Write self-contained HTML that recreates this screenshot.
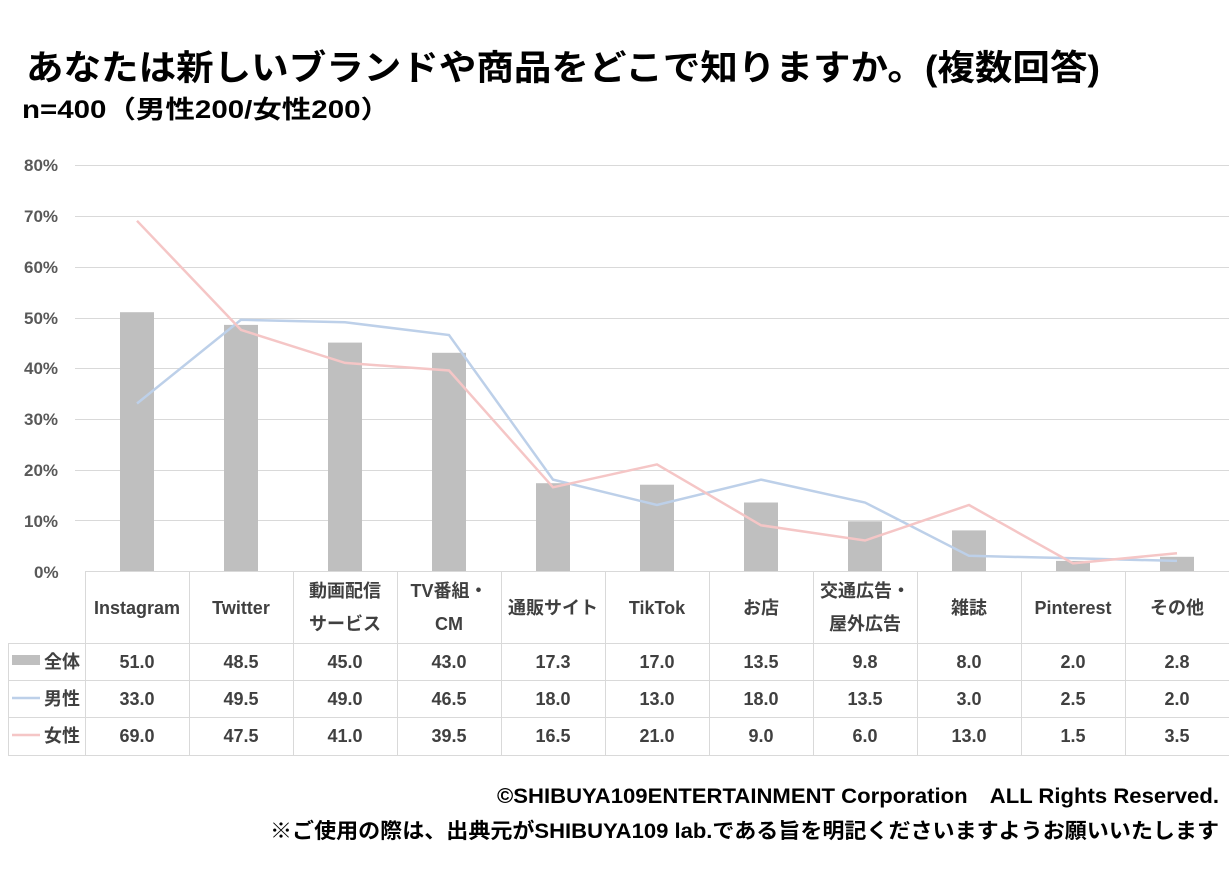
<!DOCTYPE html>
<html><head><meta charset="utf-8"><style>
body{margin:0;background:#fff;width:1229px;height:875px;overflow:hidden}
svg{display:block;font-family:"Liberation Sans","Noto Sans CJK JP",sans-serif}
.t{font-weight:bold;fill:#000}
.ax{font-size:17px;fill:#595959;font-weight:bold}
.c{font-size:18px;fill:#404040;font-weight:bold;text-anchor:middle}
.v{font-size:18px;fill:#404040;font-weight:bold;text-anchor:middle}
.g{stroke:#d9d9d9;stroke-width:1}
</style></head><body>
<svg width="1229" height="875" viewBox="0 0 1229 875">
<text class="t" x="26" y="80" font-size="35" textLength="1074" lengthAdjust="spacingAndGlyphs">あなたは新しいブランドや商品をどこで知りますか。(複数回答)</text>
<text class="t" x="22" y="118" font-size="25" textLength="368" lengthAdjust="spacingAndGlyphs">n=400（男性200/女性200）</text>
<g class="ax">
<text x="24" y="171">80%</text><text x="24" y="222">70%</text><text x="24" y="273">60%</text><text x="24" y="324">50%</text>
<text x="24" y="374">40%</text><text x="24" y="425">30%</text><text x="24" y="476">20%</text><text x="24" y="527">10%</text><text x="34" y="578">0%</text>
</g>
<g class="g">
<line x1="75" y1="165.5" x2="1229" y2="165.5"/><line x1="75" y1="216.5" x2="1229" y2="216.5"/><line x1="75" y1="267.5" x2="1229" y2="267.5"/><line x1="75" y1="318.5" x2="1229" y2="318.5"/>
<line x1="75" y1="368.5" x2="1229" y2="368.5"/><line x1="75" y1="419.5" x2="1229" y2="419.5"/><line x1="75" y1="470.5" x2="1229" y2="470.5"/><line x1="75" y1="520.5" x2="1229" y2="520.5"/>
</g>
<g fill="#bfbfbf">
<rect x="120" y="312.2" width="34" height="258.8"/><rect x="224" y="324.9" width="34" height="246.1"/><rect x="328" y="342.6" width="34" height="228.4"/>
<rect x="432" y="352.8" width="34" height="218.2"/><rect x="536" y="483.2" width="34" height="87.8"/><rect x="640" y="484.7" width="34" height="86.3"/>
<rect x="744" y="502.5" width="34" height="68.5"/><rect x="848" y="521.3" width="34" height="49.7"/><rect x="952" y="530.4" width="34" height="40.6"/>
<rect x="1056" y="560.9" width="34" height="10.1"/><rect x="1160" y="556.8" width="34" height="14.2"/>
</g>
<polyline fill="none" stroke="#bdd0e9" stroke-width="2.5" points="137,403.5 241,319.8 345,322.3 449,335 553,479.6 657,505 761,479.6 865,502.5 969,555.8 1073,558.3 1177,560.9"/>
<polyline fill="none" stroke="#f5c6c6" stroke-width="2.5" points="137,220.8 241,329.9 345,362.9 449,370.5 553,487.3 657,464.4 761,525.3 865,540.5 969,505 1073,563.4 1177,553.2"/>
<g class="g">
<line x1="85" y1="571.5" x2="1229" y2="571.5"/>
<line x1="8" y1="643.5" x2="1229" y2="643.5"/><line x1="8" y1="680.5" x2="1229" y2="680.5"/><line x1="8" y1="717.5" x2="1229" y2="717.5"/><line x1="8" y1="755.5" x2="1229" y2="755.5"/>
<line x1="8.5" y1="643" x2="8.5" y2="755"/>
<line x1="85.5" y1="571" x2="85.5" y2="755"/><line x1="189.5" y1="571" x2="189.5" y2="755"/><line x1="293.5" y1="571" x2="293.5" y2="755"/><line x1="397.5" y1="571" x2="397.5" y2="755"/>
<line x1="501.5" y1="571" x2="501.5" y2="755"/><line x1="605.5" y1="571" x2="605.5" y2="755"/><line x1="709.5" y1="571" x2="709.5" y2="755"/><line x1="813.5" y1="571" x2="813.5" y2="755"/>
<line x1="917.5" y1="571" x2="917.5" y2="755"/><line x1="1021.5" y1="571" x2="1021.5" y2="755"/><line x1="1125.5" y1="571" x2="1125.5" y2="755"/>
</g>
<g class="c">
<text x="137" y="614">Instagram</text><text x="241" y="614">Twitter</text>
<text x="345" y="597">動画配信</text><text x="345" y="630">サービス</text>
<text x="449" y="597">TV番組・</text><text x="449" y="630">CM</text>
<text x="553" y="614">通販サイト</text><text x="657" y="614">TikTok</text><text x="761" y="614">お店</text>
<text x="865" y="597">交通広告・</text><text x="865" y="630">屋外広告</text>
<text x="969" y="614">雑誌</text><text x="1073" y="614">Pinterest</text><text x="1177" y="614">その他</text>
</g>
<rect x="12" y="655" width="28" height="10" fill="#bfbfbf"/>
<line x1="12" y1="698" x2="40" y2="698" stroke="#bdd0e9" stroke-width="2.5"/>
<line x1="12" y1="735" x2="40" y2="735" stroke="#f5c6c6" stroke-width="2.5"/>
<g class="v" text-anchor="start">
<text x="44" y="668" text-anchor="start">全体</text><text x="44" y="705" text-anchor="start">男性</text><text x="44" y="742" text-anchor="start">女性</text>
</g>
<g class="v">
<text x="137" y="668">51.0</text><text x="241" y="668">48.5</text><text x="345" y="668">45.0</text><text x="449" y="668">43.0</text><text x="553" y="668">17.3</text><text x="657" y="668">17.0</text><text x="761" y="668">13.5</text><text x="865" y="668">9.8</text><text x="969" y="668">8.0</text><text x="1073" y="668">2.0</text><text x="1177" y="668">2.8</text>
<text x="137" y="705">33.0</text><text x="241" y="705">49.5</text><text x="345" y="705">49.0</text><text x="449" y="705">46.5</text><text x="553" y="705">18.0</text><text x="657" y="705">13.0</text><text x="761" y="705">18.0</text><text x="865" y="705">13.5</text><text x="969" y="705">3.0</text><text x="1073" y="705">2.5</text><text x="1177" y="705">2.0</text>
<text x="137" y="742">69.0</text><text x="241" y="742">47.5</text><text x="345" y="742">41.0</text><text x="449" y="742">39.5</text><text x="553" y="742">16.5</text><text x="657" y="742">21.0</text><text x="761" y="742">9.0</text><text x="865" y="742">6.0</text><text x="969" y="742">13.0</text><text x="1073" y="742">1.5</text><text x="1177" y="742">3.5</text>
</g>
<text class="t" x="497" y="803" font-size="21" textLength="722" lengthAdjust="spacingAndGlyphs" fill="#222">©SHIBUYA109ENTERTAINMENT Corporation　ALL Rights Reserved.</text>
<text class="t" x="270" y="838" font-size="21" textLength="949" lengthAdjust="spacingAndGlyphs" fill="#222">※ご使用の際は、出典元がSHIBUYA109 lab.である旨を明記くださいますようお願いいたします</text>
</svg>
</body></html>
